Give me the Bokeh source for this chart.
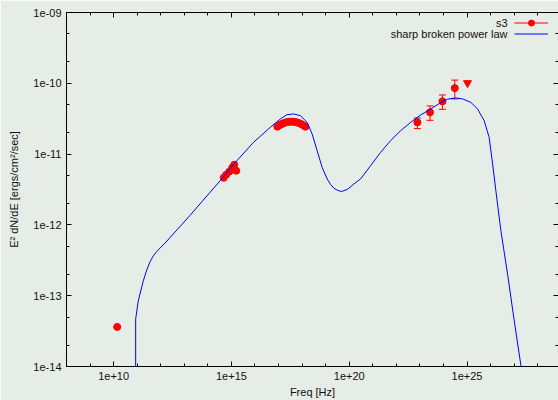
from bokeh.plotting import figure
from bokeh.models import FixedTicker, LogAxis, Legend, LegendItem, Label, CustomJSTickFormatter
from bokeh.core.properties import value
from bokeh.embed import file_html
from bokeh.resources import INLINE

# ---------------- data ----------------
# model: "sharp broken power law"
model_freq = [8.63e10, 8.63e10, 1.11e11, 1.82e11, 2.54e11, 3.51e11, 4.84e11, 6.76e11,
              9.33e11, 1.52e12, 1.77e13, 3.33e14,
              1.71e15, 8.71e15, 4.48e16, 1.19e17, 2.30e17, 4.40e17, 8.47e17, 1.63e18,
              2.67e18, 4.35e18, 7.10e18, 1.16e19, 1.60e19, 2.21e19, 3.18e19, 4.70e19,
              8.47e19, 1.57e20,
              3.03e20, 8.05e20, 2.15e21, 5.71e21, 1.52e22, 4.06e22, 1.08e23, 2.88e23,
              7.67e23, 1.52e24, 3.33e24, 6.62e24, 1.45e25, 2.80e25, 5.35e25, 8.71e25,
              1.22e26, 1.68e26, 2.74e26, 5.28e26, 1.01e27, 2.37e27]
model_flux = [1.0e-15, 4.66e-14, 8.43e-14, 1.62e-13, 2.30e-13, 3.01e-13, 3.66e-13, 4.21e-13,
              4.70e-13, 5.53e-13, 1.37e-12, 4.21e-12,
              8.07e-12, 1.47e-11, 2.39e-11, 3.13e-11, 3.61e-11, 3.69e-11, 3.49e-11, 2.81e-11,
              1.92e-11, 1.12e-11, 6.49e-12, 4.45e-12, 3.75e-12, 3.31e-12, 3.08e-12, 2.96e-12,
              3.18e-12, 3.78e-12,
              4.45e-12, 6.85e-12, 1.06e-11, 1.55e-11, 2.14e-11, 2.81e-11, 3.57e-11, 4.35e-11,
              5.33e-11, 5.98e-11, 6.21e-11, 6.01e-11, 5.38e-11, 4.35e-11, 2.96e-11, 1.72e-11,
              7.24e-12, 3.03e-12, 8.26e-13, 2.01e-13, 4.41e-14, 6.61e-15]

# s3 data points (radio, IR/optical, optical/UV)
s3_freq = [1.42e10,
           4.70e14, 6.01e14, 8.05e14, 1.08e15, 1.32e15, 1.60e15,
           8.89e16, 1.08e17, 1.32e17, 1.60e17, 1.95e17, 2.37e17, 2.88e17, 3.51e17,
           4.27e17, 5.19e17, 6.31e17, 7.67e17, 9.33e17, 1.14e18, 1.38e18]
s3_flux = [3.62e-14,
           4.63e-12, 5.12e-12, 5.64e-12, 6.43e-12, 7.08e-12, 5.82e-12,
           2.44e-11, 2.55e-11, 2.65e-11, 2.73e-11, 2.79e-11, 2.84e-11, 2.86e-11, 2.87e-11,
           2.86e-11, 2.84e-11, 2.79e-11, 2.73e-11, 2.65e-11, 2.55e-11, 2.44e-11]

# s3 gamma-ray points with error bars
gamma_freq = [7.83e22, 2.69e23, 9.06e23, 3.03e24]
gamma_flux = [2.81e-11, 3.89e-11, 5.56e-11, 8.55e-11]
gamma_lo = [2.29e-11, 3.00e-11, 4.29e-11, 6.01e-11]
gamma_hi = [3.24e-11, 4.79e-11, 6.85e-11, 1.11e-10]

# s3 upper limit
ul_freq = [1.05e25]
ul_flux = [1.01e-10]

x_ticks = [1e10, 1e15, 1e20, 1e25]
x_tick_labels = ["1e+10", "1e+15", "1e+20", "1e+25"]
x_minor = [10.0 ** k for k in range(8, 30)]
y_ticks = [1e-14, 1e-13, 1e-12, 1e-11, 1e-10, 1e-9]
y_tick_labels = ["1e-14", "1e-13", "1e-12", "1e-11", "1e-10", "1e-09"]
y_minor = [m * 10.0 ** k for k in range(-14, -9) for m in (2, 5)]

legend_labels = ["s3", "sharp broken power law"]

# ---------------- style ----------------
BG = "#e6ede6"
FONT = "Liberation Sans"
RED = "#ff0000"
BLUE = "#0000ff"

LOOKUP = """
let best = -1, bd = 1e9;
for (let i = 0; i < tvals.length; i++) {
  const d = Math.abs(Math.log10(tvals[i]) - Math.log10(tick));
  if (d < bd) { bd = d; best = i; }
}
return (best >= 0 && bd < 1e-6) ? tlabels[best] : "";
"""

p = figure(width=558, height=400, x_axis_type="log", y_axis_type="log",
           x_range=(1e8, 7.64e28), y_range=(1e-14, 1e-9),
           output_backend="svg", toolbar_location=None,
           min_border_left=66, min_border_right=0, min_border_top=12, min_border_bottom=34,
           background_fill_color=BG, border_fill_color=BG)
p.outline_line_color = None
p.grid.visible = False


def style_axis(ax):
    ax.axis_line_color = "black"
    ax.axis_line_width = 1
    ax.major_tick_line_color = "black"
    ax.minor_tick_line_color = "black"
    ax.major_tick_in = 5
    ax.major_tick_out = 0
    ax.minor_tick_in = 3
    ax.minor_tick_out = 0
    ax.major_label_text_font = FONT
    ax.major_label_text_font_size = "11px"
    ax.major_label_text_color = "#111111"
    ax.axis_label_text_font = FONT
    ax.axis_label_text_font_size = "11px"
    ax.axis_label_text_font_style = "normal"
    ax.axis_label_text_color = "#111111"


xa = p.xaxis[0]
xa.ticker = FixedTicker(ticks=x_ticks, minor_ticks=x_minor)
xa.formatter = CustomJSTickFormatter(args=dict(tvals=x_ticks, tlabels=x_tick_labels), code=LOOKUP)
xa.axis_label = "Freq [Hz]"
style_axis(xa)
xa.major_label_standoff = 5
xa.axis_label_standoff = 3

ya = p.yaxis[0]
ya.ticker = FixedTicker(ticks=y_ticks, minor_ticks=y_minor)
ya.formatter = CustomJSTickFormatter(args=dict(tvals=y_ticks, tlabels=y_tick_labels), code=LOOKUP)
ya.axis_label = "E\u00b2 dN/dE [ergs/cm\u00b2/sec]"
style_axis(ya)
ya.major_label_standoff = 5
ya.axis_label_standoff = 10

blank = [""] * 6
top = LogAxis(ticker=FixedTicker(ticks=x_ticks, minor_ticks=x_minor),
              formatter=CustomJSTickFormatter(args=dict(tvals=x_ticks, tlabels=blank[:4]), code=LOOKUP))
style_axis(top)
top.major_label_text_font_size = "1px"
top.major_label_standoff = 0
p.add_layout(top, "above")
right = LogAxis(ticker=FixedTicker(ticks=y_ticks, minor_ticks=y_minor),
                formatter=CustomJSTickFormatter(args=dict(tvals=y_ticks, tlabels=blank), code=LOOKUP))
style_axis(right)
right.major_label_text_font_size = "1px"
right.major_label_standoff = 0
p.add_layout(right, "right")

# ---------------- marks ----------------
seg_r = p.segment(x0=gamma_freq, y0=gamma_lo, x1=gamma_freq, y1=gamma_hi,
                  line_color=RED, line_width=1)
p.scatter(gamma_freq, gamma_lo, marker="dash", size=7, line_color=RED, line_width=1)
p.scatter(gamma_freq, gamma_hi, marker="dash", size=7, line_color=RED, line_width=1)
pts_r = p.scatter(s3_freq + gamma_freq, s3_flux + gamma_flux, marker="circle", size=7,
                  fill_color=RED, line_color=RED)
p.scatter(ul_freq, ul_flux, marker="inverted_triangle", size=8,
          fill_color=RED, line_color=RED)
line_r = p.line(model_freq, model_flux, line_color=BLUE, line_width=1)

common = dict(glyph_width=34, label_width=1, label_standoff=0, label_text_font_size="8px",
              spacing=0, padding=0, margin=0, border_line_color=None, background_fill_alpha=0)
leg_s3 = Legend(items=[LegendItem(label=value(" "), renderers=[seg_r, pts_r])],
                location=(448, 336), glyph_height=15, label_height=15, **common)
leg_model = Legend(items=[LegendItem(label=value(" "), renderers=[line_r])],
                   location=(448, 327), glyph_height=11, label_height=11, **common)
p.add_layout(leg_s3)
p.add_layout(leg_model)

for txt, yy in zip(legend_labels, [343.3, 332.7]):
    p.add_layout(Label(x=441, y=yy, x_units="screen", y_units="screen", text=txt,
                       text_align="right", text_baseline="middle", text_font=FONT,
                       text_font_size="11px", text_color="#111111"))

open("out.html", "w").write(file_html(p, INLINE))
